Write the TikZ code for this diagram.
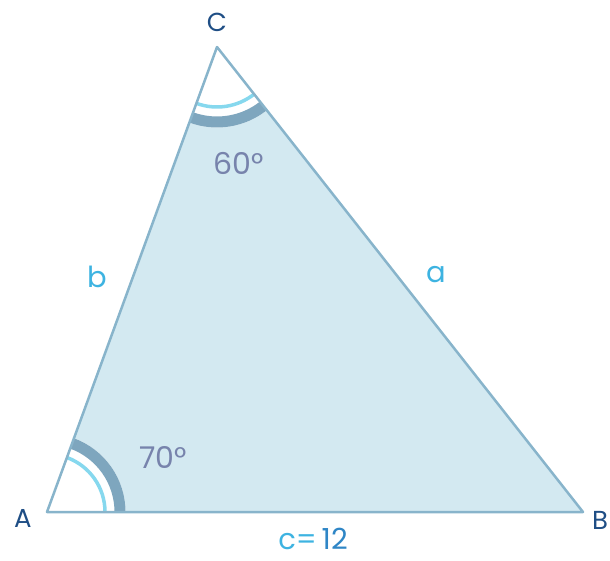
\documentclass[tikz,border=0pt]{standalone}
\usepackage{fontspec}
\setmainfont{Poppins}
\definecolor{trifill}{HTML}{D3E9F1}
\definecolor{triedge}{HTML}{88B4CB}
\definecolor{darkarc}{HTML}{7EA6BE}
\definecolor{cyanarc}{HTML}{86D8EE}
\definecolor{vlabel}{HTML}{1F4E85}
\definecolor{slabel}{HTML}{3DB3E1}
\definecolor{numblue}{HTML}{2F86C6}
\definecolor{anglab}{HTML}{7783AC}
\tikzset{
  vtx/.style={text=vlabel, font=\fontsize{26}{30}\selectfont, inner sep=0pt},
  side/.style={text=slabel, font=\fontsize{29}{32}\selectfont, inner sep=0pt},
  ang/.style={text=anglab, font=\fontsize{30}{34}\selectfont, inner sep=0pt},
  darkarcs/.style={draw=darkarc, line width=11pt},
  cyanarcs/.style={draw=cyanarc, line width=3.5pt},
}
\begin{document}
\begin{tikzpicture}[x=1pt,y=1pt]
\useasboundingbox (0,0) rectangle (610,560);
\coordinate (A) at (47,48);
\coordinate (B) at (583,48);
\coordinate (C) at (217,513);
\fill[trifill] (A) -- (B) -- (C) -- cycle;
% angle A
\fill[white] (A) -- ++(0:78.5) arc[start angle=0,end angle=69.9,radius=78.5] -- cycle;
\draw[darkarcs] (A) ++(0:73) arc[start angle=0,end angle=69.9,radius=73];
\draw[cyanarcs] (A) ++(0:58) arc[start angle=0,end angle=69.9,radius=58];
% angle C
\fill[white] (C) -- ++(249.9:80.5) arc[start angle=249.9,end angle=308.2,radius=80.5] -- cycle;
\draw[darkarcs] (C) ++(249.9:75) arc[start angle=249.9,end angle=308.2,radius=75];
\draw[cyanarcs] (C) ++(249.9:60) arc[start angle=249.9,end angle=308.2,radius=60];
% edges
\draw[triedge, line width=2.5pt, line join=round] (A) -- (B) -- (C) -- cycle;
% labels
\node[vtx] (lC) at (217,538) {C};
\node[vtx] (lA) at (23,42) {A};
\node[vtx] (lB) at (600,40) {B};
\node[side] (lc) at (313,21) {c=\,\textcolor{numblue}{12}};
\node[side] (lb) at (97,283) {b};
\node[side] (la) at (436,285) {a};
\node[ang] (l60) at (239,397) {60°};
\node[ang] (l70) at (163,103) {70°};
\end{tikzpicture}
\end{document}
